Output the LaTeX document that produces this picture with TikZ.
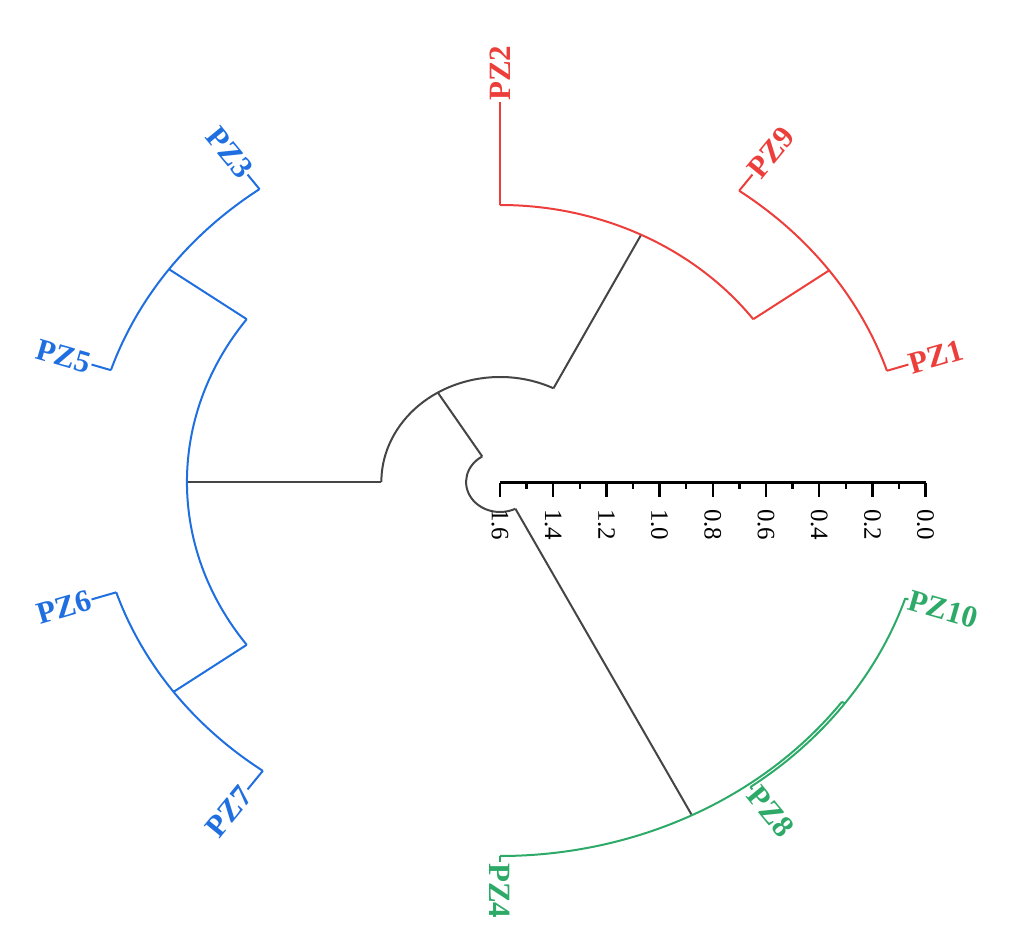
\documentclass[tikz,border=0pt]{standalone}
\usepackage{fontspec}
\setmainfont{Liberation Serif}
\definecolor{clred}{HTML}{EC3F3B}
\definecolor{clblue}{HTML}{1F6FE0}
\definecolor{clgreen}{HTML}{2EAA68}
\definecolor{clgrey}{HTML}{454545}
\tikzset
  {branch/.style={line width=2pt,line join=round},
   leaflab/.style={font=\fontsize{31}{31}\selectfont\bfseries,inner sep=1pt}}

\begin{document}
\begin{tikzpicture}[x=1pt,y=1pt]
\useasboundingbox (-500,-460) rectangle (517,482);
\begin{scope}[xscale=1.13]
 % junction points (angle:radius)
 \coordinate (R0) at (121.6:30);   \coordinate (R1) at (297:30);
 \coordinate (C0) at (121.6:105);  \coordinate (C1) at (63.2:105);  \coordinate (C2) at (180:105);
 \coordinate (A0) at (63.2:277);   \coordinate (A1) at (90:277);    \coordinate (A2) at (36:277);
 \coordinate (B0) at (36:360);     \coordinate (B1) at (54:360);    \coordinate (B2) at (18:360);
 \coordinate (D0) at (180:277);    \coordinate (D1) at (144:277);   \coordinate (D2) at (216:277);
 \coordinate (E0) at (144:362);    \coordinate (E1) at (126:362);   \coordinate (E2) at (162:362);
 \coordinate (F0) at (216:357);    \coordinate (F1) at (198:357);   \coordinate (F2) at (234:357);
 \coordinate (G0) at (-63:374);    \coordinate (G1) at (-90:374);   \coordinate (G2) at (-36:374);
 \coordinate (H0) at (-36:377);    \coordinate (H1) at (-54:377);   \coordinate (H2) at (-18:377);
 \coordinate (L2) at (90:380);     \coordinate (L9) at (54:380);    \coordinate (L1) at (18:380);
 \coordinate (L10) at (-18:380);   \coordinate (L8) at (-54:380);   \coordinate (L4) at (-90:380);
 \coordinate (L7) at (234:380);    \coordinate (L6) at (198:380);   \coordinate (L5) at (162:380);
 \coordinate (L3) at (126:380);

 % root and inner links
 \draw[branch,clgrey] (R0) arc[start angle=121.6,end angle=297,radius=30];
 \draw[branch,clgrey] (R0) -- (C0);
 \draw[branch,clgrey] (C1) arc[start angle=63.2,end angle=180,radius=105];
 \draw[branch,clgrey] (C1) -- (A0);
 \draw[branch,clgrey] (C2) -- (D0);
 \draw[branch,clgrey] (R1) -- (G0);

 % red cluster
 \draw[branch,clred] (A1) arc[start angle=90,end angle=36,radius=277];
 \draw[branch,clred] (A1) -- (L2);
 \draw[branch,clred] (A2) -- (B0);
 \draw[branch,clred] (B1) arc[start angle=54,end angle=18,radius=360];
 \draw[branch,clred] (B1) -- (L9);
 \draw[branch,clred] (B2) -- (L1);

 % blue cluster
 \draw[branch,clblue] (D1) arc[start angle=144,end angle=216,radius=277];
 \draw[branch,clblue] (D1) -- (E0);
 \draw[branch,clblue] (D2) -- (F0);
 \draw[branch,clblue] (E1) arc[start angle=126,end angle=162,radius=362];
 \draw[branch,clblue] (E1) -- (L3);
 \draw[branch,clblue] (E2) -- (L5);
 \draw[branch,clblue] (F1) arc[start angle=198,end angle=234,radius=357];
 \draw[branch,clblue] (F1) -- (L6);
 \draw[branch,clblue] (F2) -- (L7);

 % green cluster
 \draw[branch,clgreen] (G1) arc[start angle=-90,end angle=-36,radius=374];
 \draw[branch,clgreen] (G1) -- (L4);
 \draw[branch,clgreen] (G2) -- (H0);
 \draw[branch,clgreen] (H1) arc[start angle=-54,end angle=-18,radius=377];
 \draw[branch,clgreen] (H1) -- (L8);
 \draw[branch,clgreen] (H2) -- (L10);

 % leaf labels
 \node[leaflab,clred,rotate=90,anchor=west]      (pz2)  at (L2)  {PZ2};
 \node[leaflab,clred,rotate=50.6,anchor=west]    (pz9)  at (L9)  {PZ9};
 \node[leaflab,clred,rotate=16.1,anchor=west]    (pz1)  at (L1)  {PZ1};
 \node[leaflab,clgreen,rotate=-16.1,anchor=west] (pz10) at (L10) {PZ10};
 \node[leaflab,clgreen,rotate=-50.6,anchor=west] (pz8)  at (L8)  {PZ8};
 \node[leaflab,clgreen,rotate=-90,anchor=west]   (pz4)  at (L4)  {PZ4};
 \node[leaflab,clblue,rotate=50.6,anchor=east]   (pz7)  at (L7)  {PZ7};
 \node[leaflab,clblue,rotate=16.1,anchor=east]   (pz6)  at (L6)  {PZ6};
 \node[leaflab,clblue,rotate=-16.1,anchor=east]  (pz5)  at (L5)  {PZ5};
 \node[leaflab,clblue,rotate=-50.6,anchor=east]  (pz3)  at (L3)  {PZ3};

 % height axis
 \coordinate (ax0) at (0,-1);
 \coordinate (ax1) at (376.6,-1);
 \draw[line width=3pt] (ax0) -- (ax1);
 \foreach \k in {1,3,...,15}
   \draw[line width=2.5pt] (\k*23.54,-1) -- (\k*23.54,-7);
 \foreach \k/\lab in {0/1.6,2/1.4,4/1.2,6/1.0,8/0.8,10/0.6,12/0.4,14/0.2,16/0.0}
  {\draw[line width=2.5pt] (\k*23.54,-1) -- (\k*23.54,-15);
   \node[rotate=-90,anchor=west,inner sep=0pt,font=\fontsize{25}{25}\selectfont] (t\k) at (\k*23.54,-27) {\lab};}
\end{scope}
\end{tikzpicture}
\end{document}
